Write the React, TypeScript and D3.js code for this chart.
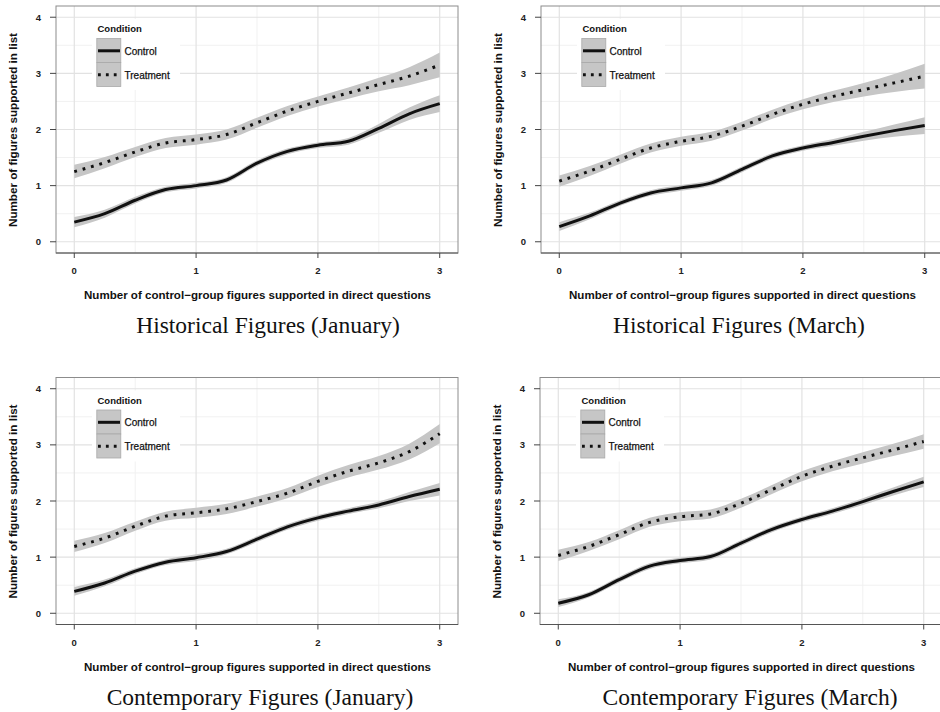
import React, { useEffect, useRef } from "react";
import * as d3 from "d3";

// Smoothed predictions at these x positions
const X_GRID = [0, 0.25, 0.5, 0.75, 1, 1.25, 1.5, 1.75, 2, 2.25, 2.5, 2.75, 3];

const HIST_JAN_CONTROL = [0.35, 0.5, 0.74, 0.93, 1.0, 1.1, 1.4, 1.61, 1.72, 1.79, 2.02, 2.28, 2.46];
const HIST_JAN_CONTROL_SE = [0.09, 0.07, 0.06, 0.05, 0.05, 0.05, 0.05, 0.05, 0.05, 0.06, 0.08, 0.11, 0.15];
const HIST_JAN_TREAT = [1.25, 1.41, 1.6, 1.76, 1.82, 1.91, 2.12, 2.33, 2.5, 2.65, 2.8, 2.95, 3.15];
const HIST_JAN_TREAT_SE = [0.12, 0.1, 0.09, 0.09, 0.09, 0.09, 0.09, 0.09, 0.09, 0.1, 0.12, 0.16, 0.22];

const HIST_MAR_CONTROL = [0.27, 0.46, 0.69, 0.87, 0.96, 1.05, 1.29, 1.53, 1.67, 1.77, 1.88, 1.98, 2.07];
const HIST_MAR_CONTROL_SE = [0.08, 0.06, 0.05, 0.05, 0.05, 0.05, 0.05, 0.05, 0.05, 0.06, 0.08, 0.11, 0.15];
const HIST_MAR_TREAT = [1.08, 1.26, 1.47, 1.67, 1.79, 1.88, 2.06, 2.27, 2.45, 2.59, 2.71, 2.83, 2.95];
const HIST_MAR_TREAT_SE = [0.1, 0.09, 0.08, 0.08, 0.08, 0.08, 0.08, 0.08, 0.09, 0.1, 0.12, 0.16, 0.22];

const CONT_JAN_CONTROL = [0.39, 0.54, 0.75, 0.91, 0.99, 1.1, 1.32, 1.54, 1.7, 1.82, 1.93, 2.08, 2.21];
const CONT_JAN_CONTROL_SE = [0.08, 0.06, 0.05, 0.05, 0.06, 0.05, 0.05, 0.05, 0.05, 0.05, 0.06, 0.08, 0.11];
const CONT_JAN_TREAT = [1.19, 1.34, 1.55, 1.73, 1.79, 1.86, 1.99, 2.14, 2.35, 2.53, 2.68, 2.88, 3.2];
const CONT_JAN_TREAT_SE = [0.1, 0.09, 0.08, 0.08, 0.09, 0.09, 0.09, 0.09, 0.1, 0.11, 0.12, 0.14, 0.17];

const CONT_MAR_CONTROL = [0.18, 0.33, 0.6, 0.84, 0.94, 1.01, 1.25, 1.49, 1.67, 1.82, 1.99, 2.17, 2.34];
const CONT_MAR_CONTROL_SE = [0.07, 0.05, 0.05, 0.05, 0.05, 0.05, 0.05, 0.05, 0.05, 0.05, 0.06, 0.07, 0.09];
const CONT_MAR_TREAT = [1.03, 1.19, 1.4, 1.62, 1.72, 1.77, 1.96, 2.2, 2.44, 2.62, 2.77, 2.91, 3.06];
const CONT_MAR_TREAT_SE = [0.1, 0.08, 0.08, 0.08, 0.08, 0.08, 0.08, 0.08, 0.09, 0.09, 0.1, 0.11, 0.13];

const PANEL_TITLES = [
  "Historical Figures (January)",
  "Historical Figures (March)",
  "Contemporary Figures (January)",
  "Contemporary Figures (March)",
];
const CONDITIONS = ["Control", "Treatment"];
const X_TICKS = [0, 1, 2, 3];
const Y_TICKS = [0, 1, 2, 3, 4];
const X_TITLE = "Number of control\u2212group figures supported in direct questions";
const Y_TITLE = "Number of figures supported in list";

type Panel = { title: string; control: number[]; controlSe: number[]; treat: number[]; treatSe: number[] };

const PANELS: Panel[] = [
  { title: PANEL_TITLES[0], control: HIST_JAN_CONTROL, controlSe: HIST_JAN_CONTROL_SE, treat: HIST_JAN_TREAT, treatSe: HIST_JAN_TREAT_SE },
  { title: PANEL_TITLES[1], control: HIST_MAR_CONTROL, controlSe: HIST_MAR_CONTROL_SE, treat: HIST_MAR_TREAT, treatSe: HIST_MAR_TREAT_SE },
  { title: PANEL_TITLES[2], control: CONT_JAN_CONTROL, controlSe: CONT_JAN_CONTROL_SE, treat: CONT_JAN_TREAT, treatSe: CONT_JAN_TREAT_SE },
  { title: PANEL_TITLES[3], control: CONT_MAR_CONTROL, controlSe: CONT_MAR_CONTROL_SE, treat: CONT_MAR_TREAT, treatSe: CONT_MAR_TREAT_SE },
];

export default function App() {
  const svgRef = useRef<SVGSVGElement | null>(null);

  useEffect(() => {
    const width = 940;
    const height = 712;
    const sans = "'Liberation Sans', Arial, Helvetica, sans-serif";
    const serif = "'Liberation Serif', 'Times New Roman', serif";
    const ribbonColor = "#c6c6c6";
    const majorGrid = "#e2e2e2";
    const minorGrid = "#f1f1f1";
    const borderColor = "#8c8c8c";

    const svg = d3.select(svgRef.current);
    svg.selectAll("*").remove();
    svg.attr("width", width).attr("height", height).attr("viewBox", `0 0 ${width} ${height}`);
    svg.append("rect").attr("width", width).attr("height", height).attr("fill", "#fff");

    // panel box within each cell
    const pLeft = 56, pRight = 458, pTop = 6, pBottom = 253;
    const x = d3.scaleLinear().domain([-0.15, 3.15]).range([pLeft, pRight]);
    const y = d3.scaleLinear().domain([-0.2, 4.2]).range([pBottom, pTop]);
    const offsets = [[0, 0], [485, 0], [0, 371.5], [484, 371.5]];
    const captionX = [268, 254, 260, 266];

    PANELS.forEach((p, i) => {
      const g = svg.append("g").attr("transform", `translate(${offsets[i][0]},${offsets[i][1]})`);
      const clipId = `clip-${i}`;
      g.append("clipPath").attr("id", clipId)
        .append("rect").attr("x", pLeft).attr("y", pTop).attr("width", pRight - pLeft).attr("height", pBottom - pTop);

      g.append("rect")
        .attr("x", pLeft).attr("y", pTop).attr("width", pRight - pLeft).attr("height", pBottom - pTop)
        .attr("fill", "#fff");

      // minor grid
      const minorX = [0.5, 1.5, 2.5];
      const minorY = [0.5, 1.5, 2.5, 3.5];
      g.selectAll(".mx").data(minorX).join("line")
        .attr("x1", d => x(d)).attr("x2", d => x(d)).attr("y1", pTop).attr("y2", pBottom)
        .attr("stroke", minorGrid).attr("stroke-width", 1);
      g.selectAll(".my").data(minorY).join("line")
        .attr("x1", pLeft).attr("x2", pRight).attr("y1", d => y(d)).attr("y2", d => y(d))
        .attr("stroke", minorGrid).attr("stroke-width", 1);
      // major grid
      g.selectAll(".gx").data(X_TICKS).join("line")
        .attr("x1", d => x(d)).attr("x2", d => x(d)).attr("y1", pTop).attr("y2", pBottom)
        .attr("stroke", majorGrid).attr("stroke-width", 1.2);
      g.selectAll(".gy").data(Y_TICKS).join("line")
        .attr("x1", pLeft).attr("x2", pRight).attr("y1", d => y(d)).attr("y2", d => y(d))
        .attr("stroke", majorGrid).attr("stroke-width", 1.2);

      const plot = g.append("g").attr("clip-path", `url(#${clipId})`);
      const series = [
        { v: p.control, se: p.controlSe, dash: null as string | null },
        { v: p.treat, se: p.treatSe, dash: "2.8,5.9" },
      ];

      series.forEach(s => {
        const pts = X_GRID.map((xv, k) => ({ x: xv, y: s.v[k], se: s.se[k] }));
        const area = d3.area<{ x: number; y: number; se: number }>()
          .x(d => x(d.x)).y0(d => y(d.y - d.se)).y1(d => y(d.y + d.se))
          .curve(d3.curveMonotoneX);
        plot.append("path").attr("d", area(pts) as string).attr("fill", ribbonColor);
      });
      series.forEach(s => {
        const pts = X_GRID.map((xv, k) => ({ x: xv, y: s.v[k] }));
        const line = d3.line<{ x: number; y: number }>()
          .x(d => x(d.x)).y(d => y(d.y)).curve(d3.curveMonotoneX);
        const path = plot.append("path").attr("d", line(pts) as string)
          .attr("fill", "none").attr("stroke", "#111").attr("stroke-width", 3);
        if (s.dash) path.attr("stroke-dasharray", s.dash);
      });

      // legend
      const lg = g.append("g");
      lg.append("rect").attr("x", 92).attr("y", 19).attr("width", 88).attr("height", 71).attr("fill", "#fff");
      lg.append("text").attr("x", 97.5).attr("y", 32).attr("font-family", sans).attr("font-size", 9.5)
        .attr("font-weight", "bold").attr("fill", "#111").text("Condition");
      CONDITIONS.forEach((c, k) => {
        const ky = 38.5 + k * 24;
        lg.append("rect").attr("x", 96.8).attr("y", ky).attr("width", 24).attr("height", 24)
          .attr("fill", ribbonColor).attr("stroke", "#a9a9a9").attr("stroke-width", 0.8);
        const ln = lg.append("line").attr("x1", 98).attr("x2", 120).attr("y1", ky + 12.3).attr("y2", ky + 12.3)
          .attr("stroke", "#111").attr("stroke-width", 3);
        if (k === 1) ln.attr("stroke-dasharray", "2.8,5.1");
        lg.append("text").attr("x", 124.5).attr("y", ky + 16).attr("font-family", sans).attr("font-size", 10)
          .attr("fill", "#111").attr("stroke", "#111").attr("stroke-width", 0.25).text(c);
      });

      // border
      g.append("rect")
        .attr("x", pLeft).attr("y", pTop).attr("width", pRight - pLeft).attr("height", pBottom - pTop)
        .attr("fill", "none").attr("stroke", borderColor).attr("stroke-width", 1);
      g.append("line").attr("x1", pLeft).attr("x2", pRight).attr("y1", pBottom).attr("y2", pBottom)
        .attr("stroke", "#555").attr("stroke-width", 1);

      // ticks
      g.selectAll(".tx").data(X_TICKS).join("line")
        .attr("x1", d => x(d)).attr("x2", d => x(d)).attr("y1", pBottom).attr("y2", pBottom + 5)
        .attr("stroke", "#444").attr("stroke-width", 1);
      g.selectAll(".ty").data(Y_TICKS).join("line")
        .attr("x1", pLeft - 6).attr("x2", pLeft).attr("y1", d => y(d)).attr("y2", d => y(d))
        .attr("stroke", "#444").attr("stroke-width", 1);
      g.selectAll(".lx").data(X_TICKS).join("text")
        .attr("x", d => x(d)).attr("y", pBottom + 21).attr("text-anchor", "middle")
        .attr("font-family", sans).attr("font-size", 9.5).attr("font-weight", "bold").attr("fill", "#222")
        .text(d => String(d));
      g.selectAll(".ly").data(Y_TICKS).join("text")
        .attr("x", 41).attr("y", d => y(d) + 3.5).attr("text-anchor", "end")
        .attr("font-family", sans).attr("font-size", 9.5).attr("font-weight", "bold").attr("fill", "#222")
        .text(d => String(d));

      // axis titles
      g.append("text")
        .attr("x", (pLeft + pRight) / 2 + 0.5).attr("y", pBottom + 46).attr("text-anchor", "middle")
        .attr("font-family", sans).attr("font-size", 11).attr("font-weight", "bold").attr("fill", "#111")
        .attr("textLength", 347).attr("lengthAdjust", "spacingAndGlyphs")
        .text(X_TITLE);
      g.append("text")
        .attr("transform", `translate(17,${130}) rotate(-90)`).attr("text-anchor", "middle")
        .attr("font-family", sans).attr("font-size", 11).attr("font-weight", "bold").attr("fill", "#111")
        .attr("textLength", 194).attr("lengthAdjust", "spacingAndGlyphs")
        .text(Y_TITLE);

      // caption
      g.append("text")
        .attr("x", captionX[i]).attr("y", pBottom + 80).attr("text-anchor", "middle")
        .attr("font-family", serif).attr("font-size", 23.5).attr("fill", "#111")
        .text(p.title);
    });
  }, []);

  return (
    <div style={{ position: "absolute", left: 0, top: 0 }}>
      <svg ref={svgRef} style={{ display: "block" }} />
    </div>
  );
}
